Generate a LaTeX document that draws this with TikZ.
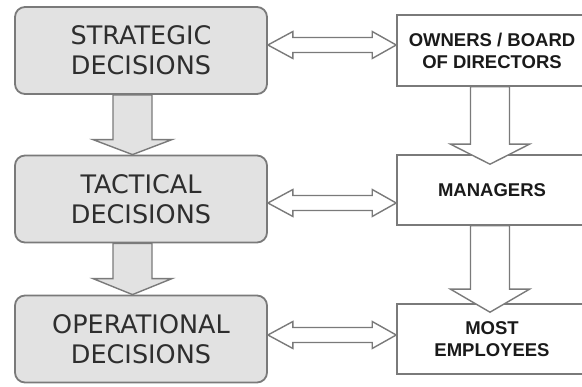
\documentclass[tikz,border=0pt]{standalone}
\usepackage{fontspec}
\newfontfamily\leftfont{DejaVu Sans}
\newfontfamily\rightfont{Liberation Sans}
\usetikzlibrary{calc}
\definecolor{boxfill}{HTML}{E2E2E2}
\definecolor{edge}{HTML}{7A7A7A}
\definecolor{ltext}{HTML}{2E2E2E}
\definecolor{rtext}{HTML}{1A1A1A}
\tikzset{
  x=1pt, y=1pt,
  decbox/.style={draw=edge, line width=1.8pt, fill=boxfill, rounded corners=10pt,
    minimum width=252pt, minimum height=87pt, inner sep=0pt, align=center,
    text=ltext, font=\leftfont\fontsize{25.5}{30}\selectfont},
  rolebox/.style={draw=edge, line width=1.6pt, fill=white,
    minimum width=190pt, minimum height=70pt, inner sep=0pt, align=center,
    text=rtext, font=\rightfont\bfseries\fontsize{18.5}{22}\selectfont},
  grayarrow/.style={draw=edge, line width=1.4pt, fill=boxfill, line join=miter},
  whitearrow/.style={draw=edge, line width=1.4pt, fill=white, line join=miter},
}
% horizontal double arrow between #1.east and #2.west at height #3
\newcommand{\hdarrow}[3]{%
  \path[whitearrow] let \p1=(#1.east), \p2=(#2.west) in
    (\x1,#3) -- (\x1+25,#3+13.5) -- (\x1+25,#3+7.5) -- (\x2-24,#3+7.5)
    -- (\x2-24,#3+13.5) -- (\x2,#3) -- (\x2-24,#3-13.5) -- (\x2-24,#3-7.5)
    -- (\x1+25,#3-7.5) -- (\x1+25,#3-13.5) -- cycle;}
% vertical fat arrow: style #1, from #2.south to #3.north, centre x #4,
% tip #5 below #3.north, head length #6
\newcommand{\vfarrow}[6]{%
  \path[#1] let \p1=(#2.south), \p2=(#3.north) in
    (#4-19.5,\y1) -- (#4-19.5,\y2-#5+#6) -- (#4-39.5,\y2-#5+#6) -- (#4,\y2-#5)
    -- (#4+39.5,\y2-#5+#6) -- (#4+19.5,\y2-#5+#6) -- (#4+19.5,\y1) -- cycle;}
\begin{document}
\begin{tikzpicture}
\useasboundingbox (0,0) rectangle (582,387);
\clip (0,0) rectangle (582,387);
\node[decbox] (L1) at (141,336.5) {STRATEGIC\\DECISIONS};
\node[decbox] (L2) at (141,188) {TACTICAL\\DECISIONS};
\node[decbox] (L3) at (141,48) {OPERATIONAL\\DECISIONS};
\node[rolebox, minimum height=71pt] (R1) at (492,336.5) {OWNERS / BOARD\\OF DIRECTORS};
\node[rolebox] (R2) at (492,197) {MANAGERS};
\node[rolebox] (R3) at (492,48) {MOST\\EMPLOYEES};
\vfarrow{grayarrow}{L1}{L2}{132.5}{0}{15}
\vfarrow{grayarrow}{L2}{L3}{132.5}{0}{16}
\vfarrow{whitearrow}{R1}{R2}{490}{10}{20}
\vfarrow{whitearrow}{R2}{R3}{490}{9}{23}
\hdarrow{L1}{R1}{342}
\hdarrow{L2}{R2}{184}
\hdarrow{L3}{R3}{52}
\end{tikzpicture}
\end{document}
